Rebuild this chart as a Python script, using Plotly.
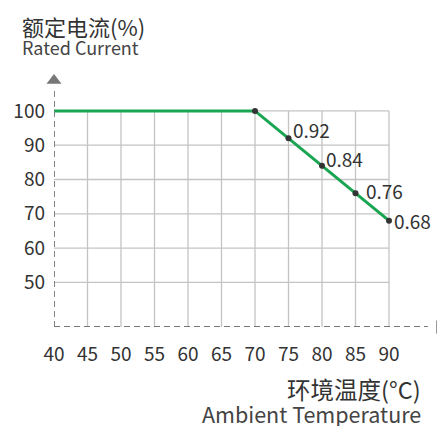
import plotly.graph_objects as go

temps = [40, 70, 75, 80, 85, 90]
current = [100, 100, 92, 84, 76, 68]
label_temps = [75, 80, 85, 90]
label_vals = [92, 84, 76, 68]
label_texts = ["0.92", "0.84", "0.76", "0.68"]
x_ticks = [40, 45, 50, 55, 60, 65, 70, 75, 80, 85, 90]
y_ticks = [50, 60, 70, 80, 90, 100]

FONT = "Noto Sans CJK SC"
GRID = "#c4c4c4"
AXIS = "#777777"
TEXT = "#333333"

OFF = 8
W, H = 445 - OFF, 426 - OFF
L = 54 - OFF
T = 70 - OFF
B_PIX = 327 - OFF
R_PIX = 440 - OFF
PW, PH = R_PIX - L, B_PIX - T

X0, X1 = 40, 40 + PW / 6.7
Y0, Y1 = 37, 37 + PH / 3.43

fig = go.Figure()

for xv in x_ticks[1:]:
    fig.add_trace(go.Scatter(x=[xv, xv], y=[Y0, max(y_ticks)], mode="lines",
                             line=dict(color=GRID, width=1.3),
                             hoverinfo="skip", showlegend=False))
for yv in y_ticks:
    fig.add_trace(go.Scatter(x=[x_ticks[0], x_ticks[-1]], y=[yv, yv], mode="lines",
                             line=dict(color=GRID, width=1.3),
                             hoverinfo="skip", showlegend=False))

shapes = [
    dict(type="line", xref="x", yref="y", x0=x_ticks[0], x1=95.8, y0=Y0, y1=Y0,
         line=dict(color=AXIS, width=1.8, dash="6px,4px")),
    dict(type="line", xref="x", yref="y", x0=x_ticks[0], x1=x_ticks[0], y0=Y0, y1=107,
         line=dict(color=AXIS, width=1.8, dash="6px,4px")),
]

fig.add_trace(go.Scatter(x=[97.5], y=[Y0], mode="markers",
                         marker=dict(symbol="triangle-right", size=12, color=AXIS,
                                     line=dict(width=0)),
                         hoverinfo="skip", showlegend=False, cliponaxis=False))
fig.add_trace(go.Scatter(x=[x_ticks[0]], y=[108.9], mode="markers",
                         marker=dict(symbol="triangle-up", size=13, color=AXIS,
                                     line=dict(width=0)),
                         hoverinfo="skip", showlegend=False, cliponaxis=False))

fig.add_trace(go.Scatter(x=temps, y=current, mode="lines",
                         line=dict(color="#1aa552", width=3),
                         hoverinfo="skip", showlegend=False))
fig.add_trace(go.Scatter(x=temps[1:], y=current[1:], mode="markers",
                         marker=dict(color="#333333", size=6),
                         hoverinfo="skip", showlegend=False, cliponaxis=False))

annotations = []
shifts = [(2, 9), (2, 7), (8, 3), (3, 0)]
for xv, yv, t, (dx, dy) in zip(label_temps, label_vals, label_texts, shifts):
    annotations.append(dict(x=xv, y=yv, xref="x", yref="y", text=t, showarrow=False,
                            xanchor="left", yanchor="middle", xshift=dx, yshift=dy,
                            font=dict(family=FONT, size=19, color=TEXT)))

def px(x):
    return (x - OFF - L) / PW

def py(y):
    return 1 - (y - OFF - T) / PH

annotations += [
    dict(text="额定电流(%)", xref="paper", yref="paper", x=px(20), y=py(26),
         xanchor="left", yanchor="middle", showarrow=False,
         font=dict(family=FONT, size=22, color=TEXT)),
    dict(text="Rated Current", xref="paper", yref="paper", x=px(20), y=py(47),
         xanchor="left", yanchor="middle", showarrow=False,
         font=dict(family=FONT, size=18, color="#444444")),
    dict(text="环境温度(°C)", xref="paper", yref="paper", x=px(423), y=py(389),
         xanchor="right", yanchor="middle", showarrow=False,
         font=dict(family=FONT, size=23.5, color=TEXT)),
    dict(text="Ambient Temperature", xref="paper", yref="paper", x=px(423), y=py(413),
         xanchor="right", yanchor="middle", showarrow=False,
         font=dict(family=FONT, size=21.5, color="#444444")),
]

fig.update_layout(
    width=W, height=H,
    margin=dict(l=L, r=W - R_PIX, t=T, b=H - B_PIX, autoexpand=False),
    paper_bgcolor="white", plot_bgcolor="white",
    shapes=shapes,
    annotations=annotations,
    xaxis=dict(range=[X0, X1], tickvals=x_ticks, ticktext=[str(v) for v in x_ticks],
               showgrid=False, zeroline=False, showline=False, ticks="",
               ticklabelstandoff=14, automargin=False,
               tickfont=dict(family=FONT, size=19, color=TEXT)),
    yaxis=dict(range=[Y0, Y1], tickvals=y_ticks, ticktext=[str(v) for v in y_ticks],
               showgrid=False, zeroline=False, showline=False, ticks="",
               ticklabelstandoff=8, automargin=False,
               tickfont=dict(family=FONT, size=19, color=TEXT)),
)

fig.write_html("out.html")
